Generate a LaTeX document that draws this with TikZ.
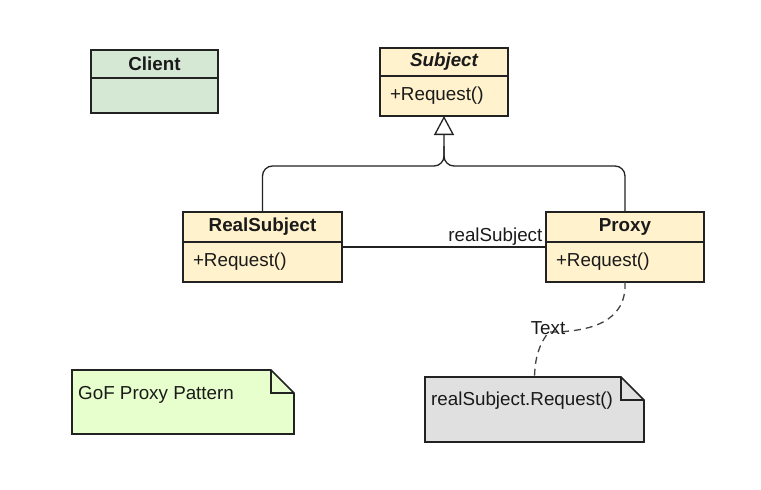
\documentclass[tikz,border=0pt]{standalone}
\usepackage{fontspec}
\setmainfont{Liberation Sans}
\usetikzlibrary{arrows.meta,calc,positioning}

\definecolor{clsfill}{HTML}{FFF2CC}
\definecolor{clientfill}{HTML}{D5E8D4}
\definecolor{notegreen}{HTML}{E6FFCC}
\definecolor{notegrey}{HTML}{E0E0E0}
\definecolor{edge}{HTML}{222222}
\definecolor{ink}{HTML}{1A1A1A}

\newcommand{\umlfont}{\fontsize{18.8}{22}\selectfont}

\tikzset{
  clshead/.style={draw=edge, line width=1.6pt, fill=clsfill, inner sep=0pt, outer sep=0pt, font=\umlfont\bfseries, text=ink, anchor=north west},
  clsbody/.style={draw=edge, line width=1.6pt, fill=clsfill, inner xsep=10pt, inner ysep=0pt, outer sep=0pt, text=ink, align=left},
  notearea/.style={inner sep=0pt, outer sep=0pt, anchor=north west},
  notetext/.style={inner sep=0pt, anchor=west, text=ink},
  link/.style={draw=edge, line width=1.3pt},
  depend/.style={draw=edge!85, line width=1.3pt, dash pattern=on 7pt off 5pt},
}

% folded note outline round a named node
\newcommand{\foldnote}[2]{%
  \draw[line width=1.6pt, draw=edge, fill=#2] (#1.north west) -- ($(#1.north east)+(-23pt,0pt)$) -- ($(#1.north east)+(0pt,-23pt)$) -- (#1.south east) -- (#1.south west) -- cycle;
  \draw[line width=1.6pt, draw=edge] ($(#1.north east)+(-23pt,0pt)$) |- ($(#1.north east)+(0pt,-23pt)$);
}

\begin{document}
\begin{tikzpicture}[x=1pt, y=-1pt, font=\umlfont]
  \useasboundingbox (0,0) rectangle (761,490);

  %%%%% classes %%%%%
  \node[clshead, fill=clientfill, minimum width=127pt, minimum height=28pt] (cl) at (91,50) {Client};
  \node[clsbody, fill=clientfill, text width=107pt, minimum height=35pt, below=0pt of cl] (clbody) {};

  \node[clshead, minimum width=128pt, minimum height=28pt, font=\umlfont\bfseries\itshape] (subj) at (380,48) {Subject};
  \node[clsbody, text width=108pt, minimum height=40pt, below=0pt of subj] (subjbody) {+Request()};

  \node[clshead, minimum width=159pt, minimum height=30pt] (rs) at (183,212) {RealSubject};
  \node[clsbody, text width=139pt, minimum height=40pt, below=0pt of rs] (rsbody) {+Request()};

  \node[clshead, minimum width=158pt, minimum height=30pt] (px) at (546,212) {Proxy};
  \node[clsbody, text width=138pt, minimum height=40pt, below=0pt of px] (pxbody) {+Request()};

  %%%%% notes %%%%%
  \node[notearea, minimum width=222pt, minimum height=64pt] (gof) at (72,370) {};
  \foldnote{gof}{notegreen}
  \node[notetext] (goftext) at ($(gof.north west)+(6pt,-25pt)$) {GoF Proxy Pattern};

  \node[notearea, minimum width=219pt, minimum height=65pt] (call) at (425,377) {};
  \foldnote{call}{notegrey}
  \node[notetext] (calltext) at ($(call.north west)+(6pt,-24pt)$) {realSubject.Request()};

  %%%%% connectors %%%%%
  \draw[link] ($(clbody.north east)+(0pt,-3pt)$) -- ($(clbody.north east)+(0pt,-3pt)$ -| subjbody.west);

  \coordinate (join) at (444,166);
  \draw[link, rounded corners=10pt, -{Triangle[open, length=19pt, width=20pt, fill=white]}] (rs.north) |- (join) -- (subjbody.south);
  \draw[link, rounded corners=10pt] (px.north) |- (join) -- ($(join)+(0pt,20pt)$);

  \draw[link] ($(rsbody.north east)+(0pt,-5pt)$) -- ($(pxbody.north west)+(0pt,-5pt)$)
    node[pos=1, anchor=south east, inner xsep=3pt, inner ysep=1pt, text=ink] (assoc) {realSubject};

  \coordinate (bend) at (549,332);
  \draw[depend] (pxbody.south) .. controls (627,322) and (590,332) .. (bend)
    .. controls (538,345) and (535,360) .. (call.north);
  \node[text=ink, inner sep=1pt] (txtlabel) at (548,328) {Text};
\end{tikzpicture}
\end{document}
